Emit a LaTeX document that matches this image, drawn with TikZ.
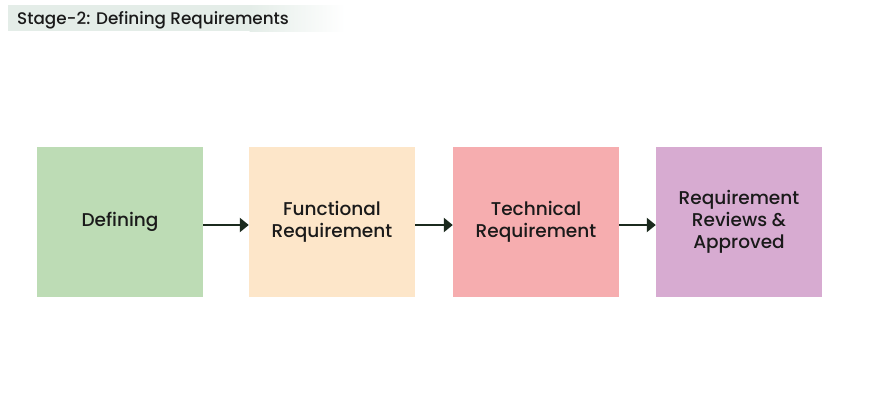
\documentclass[tikz,border=0pt]{standalone}
\usepackage{fontspec}
\setmainfont{Poppins Medium}
\usetikzlibrary{arrows.meta}
\definecolor{boxgreen}{HTML}{BDDCB5}
\definecolor{boxpeach}{HTML}{FDE6C9}
\definecolor{boxpink}{HTML}{F6ADAF}
\definecolor{boxpurple}{HTML}{D7ABD1}
\definecolor{arrowc}{HTML}{1B2A1E}
\definecolor{textc}{HTML}{1A1A1A}
\definecolor{bannerc}{HTML}{E4EDE8}
\tikzset{
  stagebox/.style={rectangle, minimum width=166pt, minimum height=150pt, inner sep=0pt,
    align=center, text=textc, font=\fontsize{18.5}{22}\selectfont},
  flowarrow/.style={-{Triangle[length=9pt,width=14pt]}, line width=2.6pt, draw=arrowc},
}
\begin{document}
\begin{tikzpicture}[x=1pt,y=-1pt]
\useasboundingbox (0,0) rectangle (873,410);
\fill[white] (0,0) rectangle (873,410);
% title banner
\fill[bannerc] (8,5) rectangle (250,31);
\shade[left color=bannerc, right color=white] (249.5,5) rectangle (345,31);
\node[anchor=base west, text=textc, font=\fontsize{16.8}{20}\selectfont, inner sep=0pt] (title) at (17,24) {Stage-2: Defining Requirements};
% boxes
\node[stagebox, fill=boxgreen] (def) at (120,222) {Defining};
\node[stagebox, fill=boxpeach] (func) at (332,222) {Functional\\Requirement};
\node[stagebox, fill=boxpink] (tech) at (536,222) {Technical\\Requirement};
\node[stagebox, fill=boxpurple] (rev) at (739,222) {Requirement\\Reviews \&\\Approved};
% arrows
\draw[flowarrow] ([yshift=-3pt]def.east) -- ([yshift=-3pt]func.west);
\draw[flowarrow] ([yshift=-3pt]func.east) -- ([yshift=-3pt]tech.west);
\draw[flowarrow] ([yshift=-3pt]tech.east) -- ([yshift=-3pt]rev.west);
\end{tikzpicture}
\end{document}
